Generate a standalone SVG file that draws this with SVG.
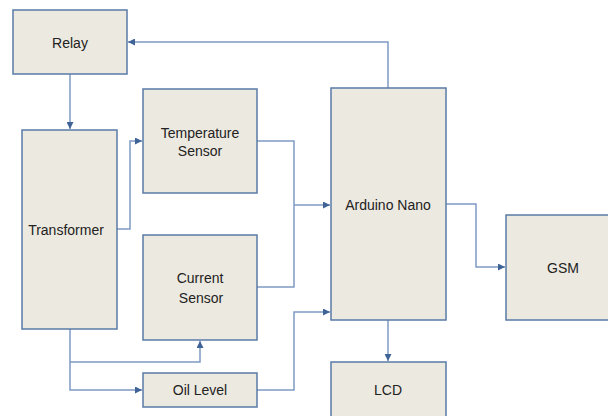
<svg xmlns="http://www.w3.org/2000/svg" width="608" height="416" viewBox="0 0 608 416">
<style>
.box{fill:#ECE9E0;stroke:#5A7BA8;stroke-width:1.5}
.lbl{font-family:"Liberation Sans",Arial,sans-serif;font-size:14px;fill:#222;text-anchor:middle;dominant-baseline:central}
.c{fill:none;stroke:#7F9BC4;stroke-width:1.5}
</style>
<defs>
<marker id="ah" viewBox="0 0 10 10" refX="10" refY="5" markerWidth="7" markerHeight="7" markerUnits="userSpaceOnUse" orient="auto">
<path d="M0,0 L10,5 L0,10 z" fill="#3F6297"/>
</marker>
</defs>
<rect width="608" height="416" fill="#fff"/>
<g id="connectors">
<path class="c" d="M388,88 V42 H128" marker-end="url(#ah)"/>
<path class="c" d="M70,74 V129" marker-end="url(#ah)"/>
<path class="c" d="M117,229 H130 V141 H142" marker-end="url(#ah)"/>
<path class="c" d="M257,141 H294 V287 H257"/>
<path class="c" d="M294,205 H330" marker-end="url(#ah)"/>
<path class="c" d="M257,390 H294 V312 H330" marker-end="url(#ah)"/>
<path class="c" d="M70,329 V362 H200 V341" marker-end="url(#ah)"/>
<path class="c" d="M70,362 V390 H142" marker-end="url(#ah)"/>
<path class="c" d="M446,204 H476 V267 H505" marker-end="url(#ah)"/>
<path class="c" d="M388,320 V361" marker-end="url(#ah)"/>
</g>
<g id="relay"><rect class="box" x="13" y="10" width="114" height="64"/><text class="lbl" x="70" y="43">Relay</text></g>
<g id="transformer"><rect class="box" x="22" y="130" width="95" height="199"/><text class="lbl" x="66" y="230">Transformer</text></g>
<g id="temperature-sensor"><rect class="box" x="143" y="89" width="114" height="104"/><text class="lbl" x="200" y="133">Temperature</text><text class="lbl" x="200" y="151">Sensor</text></g>
<g id="current-sensor"><rect class="box" x="143" y="235" width="114" height="105"/><text class="lbl" x="200" y="278">Current</text><text class="lbl" x="201" y="298">Sensor</text></g>
<g id="oil-level"><rect class="box" x="143" y="373" width="114" height="34"/><text class="lbl" x="200" y="390">Oil Level</text></g>
<g id="arduino-nano"><rect class="box" x="331" y="88" width="115" height="232"/><text class="lbl" x="388" y="205">Arduino Nano</text></g>
<g id="gsm"><rect class="box" x="506" y="215" width="110" height="105"/><text class="lbl" x="563" y="268">GSM</text></g>
<g id="lcd"><rect class="box" x="331" y="362" width="115" height="60"/><text class="lbl" x="388" y="390">LCD</text></g>
</svg>
